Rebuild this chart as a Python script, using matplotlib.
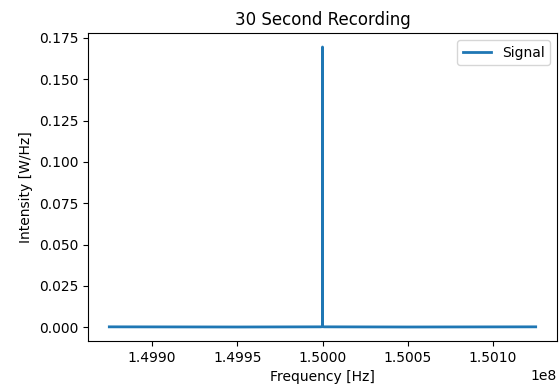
import matplotlib
matplotlib.use("Agg")
import matplotlib.pyplot as plt

# frekans noktalari (Hz) ve yogunluk degerleri (W/Hz)
frekans = [1.49875e8, 1.4995e8, 1.49999e8, 1.4999999e8, 1.5e8, 1.5000002e8, 1.5000004e8, 1.50001e8, 1.5005e8, 1.50125e8]
yogunluk = [0.0002, 0.0001, 0.0002, 0.0003, 0.1695, 0.038, 0.0003, 0.0002, 0.0001, 0.0002]

fig = plt.figure(figsize=(5.59, 3.89), dpi=100)
ax = fig.add_subplot(111)
fig.subplots_adjust(left=88/559, right=557/559, top=1-33/389, bottom=1-341/389)

ax.plot(frekans, yogunluk, label="Signal", linewidth=2)
ax.set_title("30 Second Recording")
ax.set_xlabel("Frequency [Hz]")
ax.set_ylabel("Intensity [W/Hz]")
ax.set_xticks([1.4990e8, 1.4995e8, 1.5000e8, 1.5005e8, 1.5010e8])
ax.legend(loc="upper right")

fig.savefig("out.png", dpi=100)
